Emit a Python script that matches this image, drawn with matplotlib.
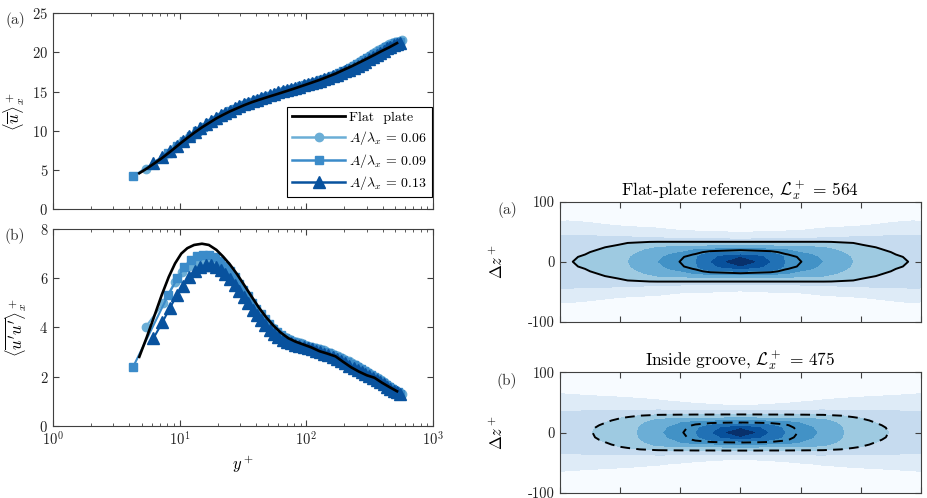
import numpy as np
import matplotlib
matplotlib.use("Agg")
import matplotlib.pyplot as plt
from matplotlib.lines import Line2D

plt.rcParams.update({
    "font.family": "serif", "font.serif": ["cmr10"], "mathtext.fontset": "cm",
    "axes.unicode_minus": False, "axes.formatter.use_mathtext": True,
    "font.size": 10, "axes.edgecolor": "#404040", "axes.linewidth": 0.8,
    "xtick.color": "#404040", "ytick.color": "#404040",
    "xtick.labelcolor": "#222222", "ytick.labelcolor": "#222222",
})

# ---- profile data ----
# flat plate
yp_flat = [4.8, 5.5, 6.3, 7.2, 8.2, 9.2, 10.3, 11.5, 13, 15, 17, 19.5, 22, 25, 28.5, 32.5, 37, 42,
           48, 55, 63, 72, 82, 95, 110, 127, 147, 170, 195, 225, 260, 300, 345, 395, 450, 520]
u_flat = [4.6, 5.2, 5.85, 6.5, 7.2, 7.85, 8.5, 9.1, 9.75, 10.45, 11.0, 11.6, 12.05, 12.5, 12.9, 13.3,
          13.65, 13.95, 14.25, 14.55, 14.85, 15.15, 15.45, 15.8, 16.15, 16.5, 16.9, 17.3, 17.75,
          18.2, 18.7, 19.2, 19.7, 20.2, 20.65, 21.2]
uu_flat = [2.8, 3.6, 4.45, 5.3, 6.05, 6.6, 7.0, 7.22, 7.35, 7.4, 7.35, 7.15, 6.88, 6.55, 6.15, 5.7,
           5.25, 4.82, 4.42, 4.07, 3.78, 3.56, 3.42, 3.3, 3.18, 3.03, 2.93, 2.82, 2.6, 2.38, 2.2,
           2.05, 1.95, 1.75, 1.58, 1.4]

# A/lambda_x = 0.06
yp_06 = [5.4, 7.4, 9.2, 10.5, 11.9, 13.4, 15.0, 16.7, 18.5, 20.4, 22.4, 24.5, 26.7, 29.1, 31.6,
         34.3, 37.1, 40.1, 43.3, 46.7, 50.4, 54.3, 58.5, 63, 67.8, 72.9, 78.4, 84.2, 90.4, 97,
         104, 111.5, 119.5, 128, 137, 146.6, 156.8, 167.6, 179, 191, 203.7, 217, 231, 245.7,
         261, 277, 293.7, 311, 329, 347.7, 367, 387, 407.7, 429, 451, 473.7, 497, 521, 545, 570]
u_06 = [5.2, 6.6, 7.85, 8.55, 9.2, 9.8, 10.35, 10.85, 11.3, 11.7, 12.05, 12.38, 12.68, 12.96,
        13.22, 13.46, 13.68, 13.88, 14.07, 14.25, 14.42, 14.58, 14.74, 14.9, 15.05, 15.2, 15.35,
        15.5, 15.65, 15.8, 15.95, 16.1, 16.26, 16.42, 16.59, 16.77, 16.95, 17.14, 17.34, 17.55,
        17.77, 18.0, 18.24, 18.48, 18.73, 18.98, 19.24, 19.5, 19.76, 20.02, 20.27, 20.5, 20.7,
        20.88, 21.04, 21.18, 21.3, 21.4, 21.48, 21.55]
uu_06 = [4.02, 4.97, 5.85, 6.25, 6.5, 6.65, 6.7, 6.68, 6.6, 6.48, 6.32, 6.12, 5.9, 5.66, 5.42,
         5.18, 4.94, 4.72, 4.5, 4.3, 4.12, 3.96, 3.82, 3.7, 3.6, 3.52, 3.45, 3.4, 3.35, 3.3, 3.26,
         3.21, 3.16, 3.11, 3.06, 3.0, 2.95, 2.89, 2.83, 2.76, 2.69, 2.62, 2.54, 2.47, 2.39, 2.32,
         2.24, 2.16, 2.08, 2.0, 1.92, 1.84, 1.76, 1.68, 1.6, 1.52, 1.45, 1.38, 1.32, 1.27]

# A/lambda_x = 0.09
yp_09 = [4.3, 8.1, 9.6, 10.9, 12.3, 13.8, 15.4, 17.1, 18.9, 20.8, 22.8, 24.9, 27.1, 29.4, 31.9,
         34.5, 37.3, 40.3, 43.5, 46.9, 50.6, 54.5, 58.7, 63.2, 68, 73.1, 78.6, 84.5, 90.8, 97.5,
         104.7, 112.4, 120.6, 129.3, 138.6, 148.5, 159, 170.2, 182, 194.5, 207.7, 221.6, 236.3,
         251.8, 268, 285, 302.8, 321.4, 340.8, 361, 382, 403.8, 426.4, 449.8, 474, 499, 524.7, 551]
u_09 = [4.2, 7.15, 8.05, 8.75, 9.4, 9.95, 10.5, 10.95, 11.4, 11.8, 12.15, 12.5, 12.8, 13.05, 13.3,
        13.52, 13.72, 13.92, 14.1, 14.28, 14.45, 14.62, 14.78, 14.93, 15.08, 15.23, 15.38, 15.53,
        15.68, 15.83, 15.98, 16.13, 16.29, 16.45, 16.62, 16.8, 16.98, 17.17, 17.37, 17.58, 17.8,
        18.02, 18.26, 18.5, 18.75, 19.0, 19.26, 19.52, 19.75, 19.98, 20.2, 20.45, 20.65, 20.85,
        21.0, 21.15, 21.28, 21.4]
uu_09 = [2.4, 5.3, 6.0, 6.45, 6.75, 6.9, 6.95, 6.93, 6.85, 6.7, 6.5, 6.28, 6.03, 5.78, 5.52, 5.26,
         5.0, 4.76, 4.53, 4.32, 4.12, 3.95, 3.8, 3.67, 3.57, 3.49, 3.42, 3.36, 3.31, 3.26, 3.21,
         3.16, 3.11, 3.06, 3.0, 2.94, 2.88, 2.81, 2.74, 2.67, 2.6, 2.52, 2.45, 2.37, 2.29, 2.21,
         2.13, 2.05, 1.97, 1.89, 1.81, 1.72, 1.64, 1.56, 1.48, 1.41, 1.35, 1.3]

# A/lambda_x = 0.13
yp_13 = [6.2, 7.3, 8.4, 9.5, 10.6, 11.8, 13.1, 14.5, 16, 17.6, 19.3, 21.1, 23, 25, 27.2, 29.5, 32,
         34.7, 37.6, 40.7, 44, 47.6, 51.5, 55.7, 60.2, 65, 70, 75.5, 81.5, 88, 95, 102.5, 110.5,
         119, 128, 138, 149, 161, 174, 188, 203, 219, 236, 254, 273, 293, 314, 336, 359, 383,
         408, 434, 461, 489, 518, 548]
u_13 = [5.95, 6.7, 7.45, 8.1, 8.75, 9.35, 9.9, 10.4, 10.85, 11.25, 11.65, 12.0, 12.3, 12.6, 12.9,
        13.15, 13.4, 13.6, 13.8, 14.0, 14.2, 14.38, 14.55, 14.72, 14.9, 15.05, 15.2, 15.35, 15.5,
        15.65, 15.8, 15.95, 16.1, 16.25, 16.42, 16.6, 16.78, 16.97, 17.17, 17.38, 17.6, 17.83,
        18.07, 18.32, 18.58, 18.85, 19.12, 19.4, 19.68, 19.96, 20.24, 20.52, 20.72, 20.9, 21.07,
        21.25]
uu_13 = [3.55, 4.2, 4.8, 5.3, 5.7, 6.05, 6.3, 6.45, 6.52, 6.52, 6.45, 6.32, 6.15, 5.95, 5.72, 5.48,
         5.22, 4.97, 4.72, 4.5, 4.28, 4.08, 3.9, 3.74, 3.6, 3.5, 3.42, 3.36, 3.3, 3.25, 3.2, 3.15,
         3.1, 3.05, 2.99, 2.93, 2.86, 2.78, 2.7, 2.62, 2.53, 2.44, 2.35, 2.26, 2.18, 2.1, 2.02,
         1.94, 1.86, 1.77, 1.68, 1.59, 1.5, 1.42, 1.35, 1.3]

# ---- two-point correlation, one quadrant (dx>=0, dz>=0); mirrored below ----
dx_quad = [0, 50, 100, 150, 200, 275, 375, 450, 500, 540, 575, 600]
dz_quad = [0, 8, 12, 16, 20, 24, 28, 33, 38, 44, 52, 60, 70, 85, 100]
# one row per dx value, entries along dz_quad
R_flat = [
    [1.0, 0.77, 0.62, 0.49, 0.44, 0.35, 0.27, 0.203, 0.095, 0.06, 0.043, 0.035, 0.03, 0.02, 0.015],
    [0.79, 0.7, 0.6, 0.48, 0.43, 0.35, 0.27, 0.203, 0.097, 0.062, 0.045, 0.036, 0.03, 0.022, 0.016],
    [0.64, 0.6, 0.55, 0.47, 0.42, 0.34, 0.27, 0.203, 0.1, 0.065, 0.047, 0.037, 0.031, 0.023, 0.017],
    [0.49, 0.48, 0.455, 0.43, 0.40, 0.33, 0.26, 0.203, 0.1, 0.066, 0.048, 0.038, 0.032, 0.024, 0.018],
    [0.452, 0.44, 0.425, 0.395, 0.37, 0.32, 0.26, 0.203, 0.105, 0.07, 0.05, 0.04, 0.033, 0.025, 0.019],
    [0.398, 0.385, 0.37, 0.35, 0.33, 0.30, 0.25, 0.203, 0.11, 0.075, 0.055, 0.045, 0.036, 0.028, 0.021],
    [0.298, 0.29, 0.28, 0.27, 0.255, 0.24, 0.215, 0.192, 0.12, 0.085, 0.06, 0.048, 0.04, 0.03, 0.023],
    [0.24, 0.235, 0.23, 0.22, 0.21, 0.2, 0.18, 0.16, 0.13, 0.09, 0.065, 0.052, 0.042, 0.032, 0.025],
    [0.225, 0.215, 0.207, 0.2, 0.19, 0.18, 0.17, 0.155, 0.13, 0.095, 0.068, 0.055, 0.045, 0.034, 0.026],
    [0.21, 0.2, 0.19, 0.18, 0.175, 0.17, 0.16, 0.15, 0.13, 0.098, 0.07, 0.057, 0.047, 0.035, 0.027],
    [0.19, 0.185, 0.18, 0.175, 0.17, 0.165, 0.155, 0.145, 0.13, 0.101, 0.072, 0.058, 0.048, 0.036, 0.028],
    [0.18, 0.178, 0.175, 0.17, 0.165, 0.16, 0.15, 0.14, 0.125, 0.099, 0.073, 0.057, 0.047, 0.037, 0.029],
]
R_groove = [
    [1.0, 0.74, 0.55, 0.46, 0.395, 0.305, 0.24, 0.14, 0.085, 0.051, 0.04, 0.034, 0.028, 0.02, 0.015],
    [0.79, 0.68, 0.53, 0.455, 0.39, 0.302, 0.24, 0.14, 0.086, 0.052, 0.041, 0.035, 0.029, 0.021, 0.016],
    [0.62, 0.57, 0.505, 0.445, 0.385, 0.298, 0.235, 0.14, 0.088, 0.054, 0.043, 0.037, 0.03, 0.022, 0.017],
    [0.49, 0.475, 0.46, 0.43, 0.38, 0.295, 0.235, 0.14, 0.09, 0.056, 0.045, 0.039, 0.032, 0.024, 0.018],
    [0.44, 0.43, 0.415, 0.398, 0.36, 0.29, 0.23, 0.14, 0.092, 0.06, 0.048, 0.041, 0.034, 0.025, 0.019],
    [0.385, 0.375, 0.36, 0.345, 0.32, 0.28, 0.222, 0.14, 0.095, 0.065, 0.052, 0.045, 0.037, 0.028, 0.021],
    [0.26, 0.255, 0.25, 0.24, 0.225, 0.21, 0.185, 0.125, 0.088, 0.072, 0.056, 0.048, 0.04, 0.03, 0.023],
    [0.225, 0.22, 0.21, 0.2, 0.19, 0.175, 0.16, 0.125, 0.09, 0.075, 0.058, 0.05, 0.042, 0.032, 0.024],
    [0.195, 0.19, 0.185, 0.18, 0.175, 0.165, 0.155, 0.12, 0.09, 0.077, 0.06, 0.051, 0.043, 0.033, 0.025],
    [0.18, 0.178, 0.173, 0.168, 0.163, 0.155, 0.145, 0.112, 0.088, 0.078, 0.061, 0.052, 0.044, 0.034, 0.026],
    [0.17, 0.168, 0.165, 0.16, 0.155, 0.145, 0.135, 0.108, 0.087, 0.077, 0.062, 0.053, 0.045, 0.035, 0.027],
    [0.165, 0.163, 0.16, 0.155, 0.15, 0.14, 0.13, 0.105, 0.085, 0.076, 0.062, 0.053, 0.046, 0.036, 0.027],
]
fill_levels = [-1, 0.05, 0.1, 0.2, 0.3, 0.4, 0.5, 0.65, 0.8, 1.1]
fill_colors = ["#f7fbff", "#deebf7", "#c6dbef", "#9ecae1", "#6baed6",
               "#4292c6", "#2171b5", "#08519c", "#08306b"]
line_levels = [0.2, 0.45]

series = [
    (yp_06, u_06, uu_06, "o", 6.0, "#6baed6", r"$A/\lambda_x\,=\,0.06$"),
    (yp_09, u_09, uu_09, "s", 5.6, "#3b8bc9", r"$A/\lambda_x\,=\,0.09$"),
    (yp_13, u_13, uu_13, "^", 8.0, "#08529e", r"$A/\lambda_x\,=\,0.13$"),
]


def mirror(quad_rows, dx_q, dz_q):
    dx_q = np.array(dx_q, float)
    dz_q = np.array(dz_q, float)
    R = np.array(quad_rows).T                    # (nz, nx)
    R = np.hstack([R[:, :0:-1], R])
    R = np.vstack([R[:0:-1, :], R])
    dx = np.concatenate([-dx_q[:0:-1], dx_q])
    dz = np.concatenate([-dz_q[:0:-1], dz_q])
    return dx, dz, R


def style_left(ax):
    ax.set_xscale("log")
    ax.set_xlim(1, 1000)
    ax.tick_params(which="both", direction="in", top=True, right=True)
    ax.tick_params(which="major", length=4, labelsize=10.5)
    ax.tick_params(which="minor", length=2)


fig = plt.figure(figsize=(9.28, 4.98), dpi=100)
ax1 = fig.add_axes([0.0571, 0.5797, 0.4095, 0.3936])
ax2 = fig.add_axes([0.0571, 0.1452, 0.4095, 0.3950])
ax3 = fig.add_axes([0.6034, 0.3540, 0.3890, 0.2410])
ax4 = fig.add_axes([0.6034, 0.0106, 0.3890, 0.2418])

# ---- left: mean velocity and streamwise stress ----
handles = []
for yp, u, uu, mk, ms, c, lab in series:
    ax1.plot(yp, u, "-", marker=mk, ms=ms, color=c, mfc=c, mec=c, lw=1.5)
    ax2.plot(yp, uu, "-", marker=mk, ms=ms, color=c, mfc=c, mec=c, lw=1.5)
    handles.append(Line2D([], [], color=c, marker=mk, ms=ms, mfc=c, mec=c, lw=1.8, label=lab))
ax1.plot(yp_flat, u_flat, "k-", lw=1.9, zorder=5)
ax2.plot(yp_flat, uu_flat, "k-", lw=1.9, zorder=5)
handles.insert(0, Line2D([], [], color="k", lw=2.0, label="Flat  plate"))

style_left(ax1)
ax1.set_ylim(0, 25)
ax1.set_yticks([0, 5, 10, 15, 20, 25])
ax1.set_xticklabels([])
ax1.set_ylabel(r"$\langle\overline{u}\rangle_x^+$", fontsize=12)
ax1.yaxis.set_label_coords(-0.068, 0.5)
ax1.legend(handles=handles, loc="lower right", bbox_to_anchor=(0.997, 0.063),
           fancybox=False, edgecolor="k", framealpha=1, fontsize=10, numpoints=1,
           handlelength=3.8, borderpad=0.35, labelspacing=0.33, handletextpad=0.3,
           borderaxespad=0).get_frame().set_linewidth(0.8)

style_left(ax2)
ax2.set_ylim(0, 8)
ax2.set_yticks([0, 2, 4, 6, 8])
ax2.set_ylabel(r"$\langle\overline{u'u'}\rangle_x^+$", fontsize=12)
ax2.yaxis.set_label_coords(-0.062, 0.5)
ax2.set_xlabel(r"$y^+$", fontsize=12)

# ---- right: correlation maps ----
for ax, quad, ls, title in [
    (ax3, R_flat, ["solid", "solid"], r"Flat-plate reference, $\mathcal{L}_x^+\,=\,564$"),
    (ax4, R_groove, [(0, (5, 3.2)), (0, (5, 3.2))], r"Inside groove, $\mathcal{L}_x^+\,=\,475$"),
]:
    dx, dz, R = mirror(quad, dx_quad, dz_quad)
    ax.contourf(dx, dz, R, levels=fill_levels, colors=fill_colors)
    ax.contour(dx, dz, R, levels=line_levels, colors="k", linewidths=1.4, linestyles=ls)
    ax.set_xlim(-600, 600)
    ax.set_ylim(-100, 100)
    ax.set_xticks([-600, -400, -200, 0, 200, 400, 600])
    ax.set_xticklabels([])
    ax.set_yticks([-100, 0, 100])
    ax.set_yticklabels(["-100", "0", "100"])
    ax.tick_params(direction="in", top=True, right=True, length=4, labelsize=10.5)
    ax.set_ylabel(r"$\Delta z^+$", fontsize=12)
    ax.yaxis.set_label_coords(-0.15, 0.5)
    ax.set_title(title, fontsize=12.5, pad=3)

# panel labels
for x, y, s in [(15, 20, "(a)"), (15, 236, "(b)"), (507, 210, "(a)"), (507, 381, "(b)")]:
    fig.text(x / 928, 1 - y / 498, s, ha="center", va="center", fontsize=11, color="#333333")

fig.savefig("out.png", dpi=100)
